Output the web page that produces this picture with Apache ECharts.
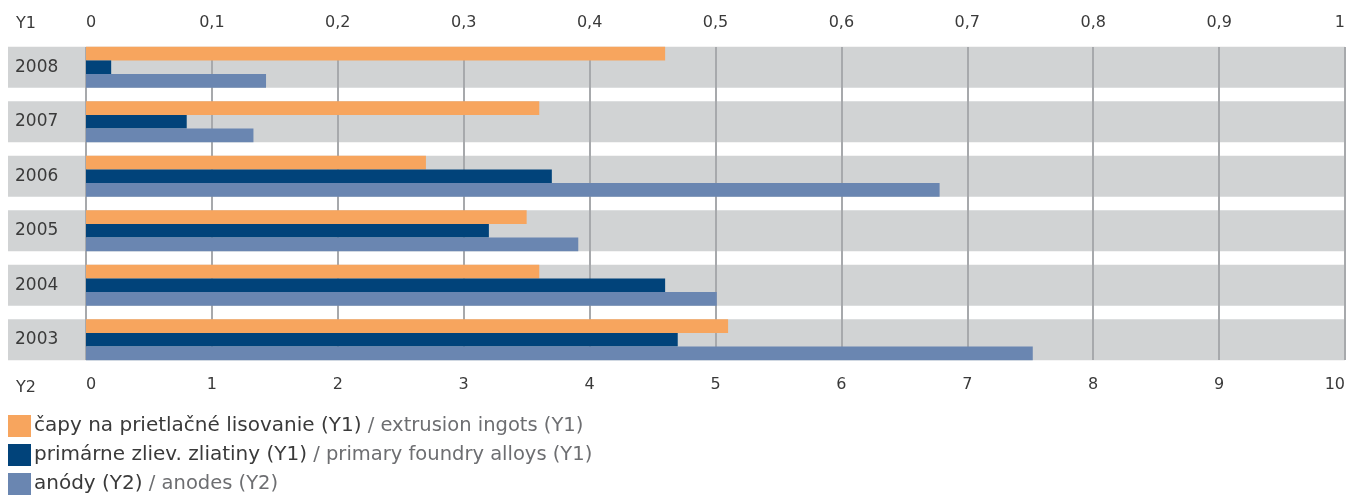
<!DOCTYPE html>
<html>
<head>
    <meta charset="utf-8">
    <title>Chart</title>
    <script src="https://cdn.jsdelivr.net/npm/echarts@6/dist/echarts.min.js"></script>
    <style>
        html, body { margin: 0; padding: 0; background: #fff; }
        #main { width: 1349px; height: 499px; }
    </style>
</head>
<body>
    <div id="main"></div>
    <script type="text/javascript">
        // data, years listed top to bottom
        var years = ['2008', '2007', '2006', '2005', '2004', '2003'];
        var names = ['čapy na prietlačné lisovanie (Y1)', 'primárne zliev. zliatiny (Y1)', 'anódy (Y2)'];
        var namesEn = ['extrusion ingots (Y1)', 'primary foundry alloys (Y1)', 'anodes (Y2)'];
        var ingots = [0.46, 0.36, 0.27, 0.35, 0.36, 0.51];     // Y1
        var foundry = [0.02, 0.08, 0.37, 0.32, 0.46, 0.47];    // Y1
        var anodes = [1.43, 1.33, 6.78, 3.91, 5.01, 7.52];     // Y2
        var bandFill = years.map(function () { return 1; });

        var txt = '#3a3a3a';
        var font = 'DejaVu Sans';

        var myChart = echarts.init(document.getElementById('main'), null, {renderer: 'canvas'});

        var option = {
            animation: false,
            textStyle: { fontFamily: font },
            title: [
                { text: 'Y1', left: 11, top: 11, textStyle: { fontSize: 16, fontWeight: 'normal', color: txt, fontFamily: font } },
                { text: 'Y2', left: 11, top: 375, textStyle: { fontSize: 16, fontWeight: 'normal', color: txt, fontFamily: font } }
            ],
            legend: {
                orient: 'vertical',
                left: 8,
                top: 415,
                padding: 0,
                itemWidth: 23,
                itemHeight: 22,
                itemGap: 7,
                icon: 'rect',
                data: names,
                formatter: function (name) {
                    var i = names.indexOf(name);
                    return '{a|' + name + '}{b| / ' + namesEn[i] + '}';
                },
                textStyle: {
                    padding: [0, 0, 0, -2],
                    rich: {
                        a: { fontSize: 20, color: '#3a3a3a', fontFamily: font, lineHeight: 22 },
                        b: { fontSize: 19.5, color: '#6d6e71', fontFamily: font, lineHeight: 22 }
                    }
                }
            },
            grid: [
                { left: 8, right: 4, top: 40, bottom: 132 },   // grey bands
                { left: 86, right: 4, top: 47, bottom: 139 },  // vertical grid lines
                { left: 86, right: 4, top: 40, bottom: 132 }   // bars
            ],
            xAxis: [
                { gridIndex: 0, type: 'value', min: 0, max: 1, show: false },
                {
                    gridIndex: 1, type: 'value', min: 0, max: 1, interval: 0.1, z: 1,
                    axisLine: { show: false }, axisTick: { show: false }, axisLabel: { show: false },
                    splitLine: { show: true, lineStyle: { color: '#a7a9ac', width: 2 } }
                },
                {
                    gridIndex: 2, type: 'value', position: 'top', min: 0, max: 1, interval: 0.1,
                    axisLine: { show: false }, axisTick: { show: false }, splitLine: { show: false },
                    axisLabel: {
                        margin: 9, fontSize: 16, color: txt, fontFamily: font,
                        alignMinLabel: 'left', alignMaxLabel: 'right',
                        formatter: function (v) { return String(+v.toFixed(1)).replace('.', ','); }
                    }
                },
                {
                    gridIndex: 2, type: 'value', position: 'bottom', min: 0, max: 10, interval: 1,
                    axisLine: { show: false }, axisTick: { show: false }, splitLine: { show: false },
                    axisLabel: {
                        margin: 10, fontSize: 16, color: txt, fontFamily: font,
                        alignMinLabel: 'left', alignMaxLabel: 'right'
                    }
                }
            ],
            yAxis: [
                { gridIndex: 0, type: 'category', data: years, inverse: true, show: false },
                { gridIndex: 1, type: 'category', data: years, inverse: true, show: false },
                {
                    gridIndex: 2, type: 'category', data: years, inverse: true,
                    axisLine: { show: false }, axisTick: { show: false },
                    axisLabel: { align: 'left', margin: 71, fontSize: 17, color: txt, fontFamily: font }
                }
            ],
            series: [
                {
                    name: 'band', type: 'bar', xAxisIndex: 0, yAxisIndex: 0, data: bandFill,
                    barCategoryGap: '25%', silent: true, z: 0,
                    itemStyle: { color: '#d1d3d4' }
                },
                {
                    name: names[0], type: 'bar', xAxisIndex: 2, yAxisIndex: 2, data: ingots,
                    barGap: '0%', barCategoryGap: '25%', z: 3,
                    itemStyle: { color: '#f7a55e' }
                },
                {
                    name: names[1], type: 'bar', xAxisIndex: 2, yAxisIndex: 2, data: foundry,
                    barGap: '0%', barCategoryGap: '25%', z: 3,
                    itemStyle: { color: '#01437a' }
                },
                {
                    name: names[2], type: 'bar', xAxisIndex: 3, yAxisIndex: 2, data: anodes,
                    barGap: '0%', barCategoryGap: '25%', z: 3,
                    itemStyle: { color: '#6a86b1' }
                }
            ]
        };
        myChart.setOption(option);
    </script>
</body>
</html>
